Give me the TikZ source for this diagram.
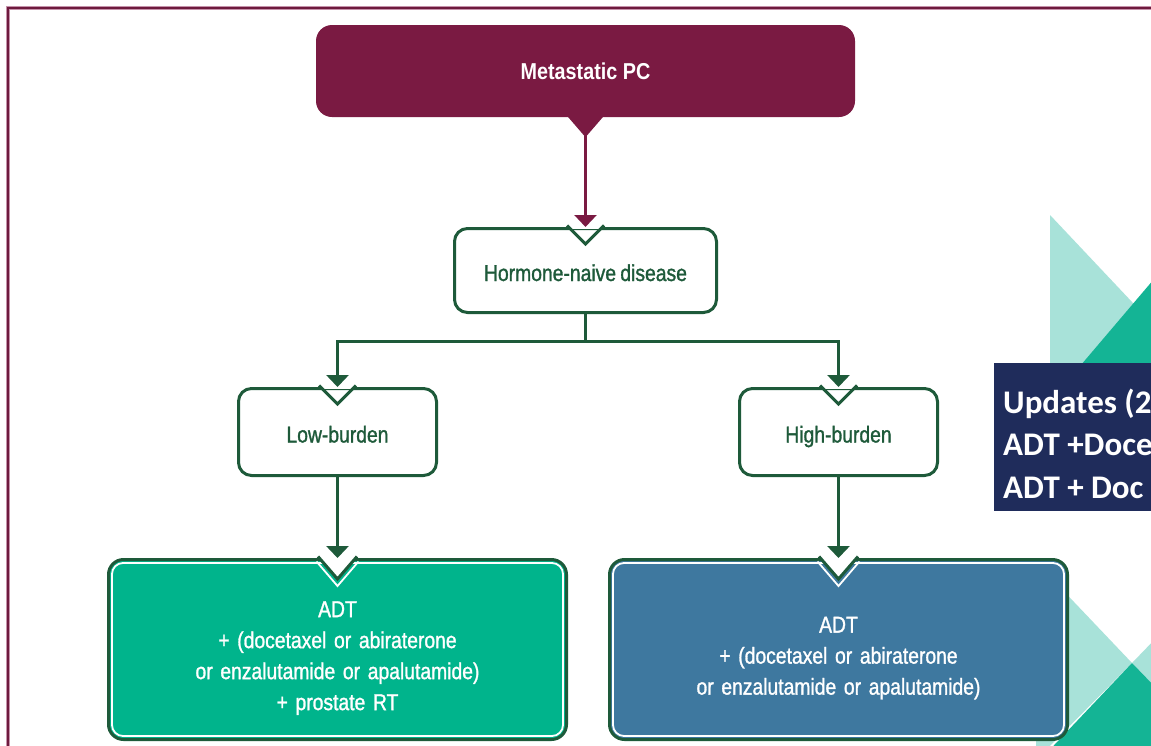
\documentclass[tikz,border=0pt]{standalone}
\usepackage{fontspec}
\setmainfont{Liberation Sans}[FakeStretch=0.86]
\newfontfamily\lblfont{Liberation Sans}[FakeStretch=0.84, FakeBold=1.2, WordSpace=0.8]
\newfontfamily\updfont{Carlito}
\usetikzlibrary{arrows.meta}
\definecolor{cMaroon}{HTML}{7A1A42}
\definecolor{cFrame}{HTML}{6E1A3E}
\definecolor{cFrameHalo}{HTML}{C592AA}
\definecolor{cGreen}{HTML}{1E5A3A}
\definecolor{cTeal}{HTML}{00B48C}
\definecolor{cBlue}{HTML}{3E789F}
\definecolor{cNavy}{HTML}{1F2C5B}
\definecolor{cLightTeal}{HTML}{A8E2D9}
\definecolor{cDarkTeal}{HTML}{14B495}
\tikzset{
  wbox/.style={draw=cGreen, line width=3pt, fill=white, rounded corners=13pt,
    text=cGreen, font=\lblfont\fontsize{23}{28}\selectfont, inner sep=0pt,
    text height=21pt, text depth=0pt},
  bigbox/.style={draw=cGreen, line width=3pt, rounded corners=15pt,
    text=white, align=center, text width=450pt,
    font=\lblfont\fontsize{23}{31}\selectfont, inner sep=0pt,
    minimum width=458pt, minimum height=180pt},
  metabox/.style={fill=cMaroon, rounded corners=16pt, text=white,
    font=\bfseries\fontsize{23}{28}\selectfont, minimum width=539pt,
    minimum height=92pt, inner sep=0pt},
  conn/.style={cGreen, line width=3pt, -{Triangle[width=22pt,length=12pt]}},
  connplain/.style={cGreen, line width=3pt},
  mconn/.style={cMaroon, line width=2.5pt, -{Triangle[width=22pt,length=12pt]}},
  notchline/.style={cGreen, line width=3pt, line join=miter},
  innerline/.style={white, line width=1.8pt},
}
\newcommand{\wnotch}[1]{%
  \fill[white] ([xshift=-17pt,yshift=-2pt]#1.north) rectangle ([xshift=17pt,yshift=2.5pt]#1.north);
  \draw[notchline] ([xshift=-18.5pt,yshift=1.5pt]#1.north) -- ([yshift=-17pt]#1.north) -- ([xshift=18.5pt,yshift=1.5pt]#1.north);
}
\newcommand{\bnotch}[1]{%
  \draw[innerline, rounded corners=11pt] ([xshift=5pt,yshift=-5pt]#1.north west) rectangle ([xshift=-5pt,yshift=5pt]#1.south east);
  \fill[white] ([xshift=-19pt,yshift=2.5pt]#1.north) -- ([xshift=-19pt,yshift=0pt]#1.north) -- ([yshift=-21pt]#1.north) -- ([xshift=19pt,yshift=0pt]#1.north) -- ([xshift=19pt,yshift=2.5pt]#1.north) -- cycle;
  \draw[notchline] ([xshift=-19.5pt,yshift=1.5pt]#1.north) -- ([yshift=-21pt]#1.north) -- ([xshift=19.5pt,yshift=1.5pt]#1.north);
  \draw[innerline] ([xshift=-21pt,yshift=-3.5pt]#1.north) -- ([yshift=-28pt]#1.north) -- ([xshift=21pt,yshift=-3.5pt]#1.north);
}
\begin{document}
\begin{tikzpicture}[x=1pt,y=-1pt]
\useasboundingbox (0,0) rectangle (1151,745);
\clip (0,0) rectangle (1151,745);
\fill[white] (0,0) rectangle (1151,745);
% decorative triangles
\fill[cLightTeal] (1050,215) -- (1050,372) -- (1198,372) -- cycle;
\fill[cDarkTeal] (1075,372) -- (1160,272) -- (1160,372) -- cycle;
\fill[cLightTeal] (1036,562) -- (1132,663) -- (1036,760) -- cycle;
\fill[cLightTeal] (1132,663) -- (1160,634) -- (1160,692) -- cycle;
\fill[cDarkTeal] (1132,663) -- (1160,692) -- (1160,760) -- (1040,760) -- cycle;
% frame
\draw[cFrameHalo, line width=4pt] (8,760) -- (8,8) -- (1160,8);
\draw[cFrame, line width=2pt] (8,760) -- (8,8) -- (1160,8);
% updates box
\node[fill=cNavy, anchor=north west, minimum height=148pt, text width=200pt,
  inner xsep=9pt, inner ysep=0pt, align=flush left, text=white,
  font=\updfont\bfseries\fontsize{33}{42.5}\selectfont] (upd) at (994,363)
  {\rule{0pt}{37pt}Updates (2\\ADT +Doce\\ADT + Doc};
% nodes
\node[metabox] (meta) at (585.5,71) {Metastatic PC};
\node[wbox, minimum width=262pt, minimum height=84pt] (horm) at (585.5,270.5) {Hormone-naive disease};
\node[wbox, minimum width=198pt, minimum height=87pt] (low) at (337.5,432) {Low-burden};
\node[wbox, minimum width=198pt, minimum height=87pt] (high) at (838.5,432) {High-burden};
\node[bigbox, fill=cTeal] (lowtx) at (337.5,649.5) {\rule{0pt}{33pt}ADT\\+ (docetaxel or abiraterone\\or enzalutamide or apalutamide)\\+ prostate RT};
\node[bigbox, fill=cBlue] (hightx) at (838.5,649.5) {\rule{0pt}{33pt}ADT\\+ (docetaxel or abiraterone\\or enzalutamide or apalutamide)};
% notches
\wnotch{horm}
\wnotch{low}
\wnotch{high}
\bnotch{lowtx}
\bnotch{hightx}
% meta pointer
\fill[cMaroon] ([xshift=-19pt,yshift=2pt]meta.south) -- ([xshift=19pt,yshift=2pt]meta.south) -- ([yshift=-20pt]meta.south) -- cycle;
% connectors
\coordinate (split) at (585.5,341);
\draw[mconn] ([yshift=-18pt]meta.south) -- (horm.north);
\draw[connplain] (horm.south) -- (split);
\draw[conn] ([xshift=1.5pt]split) -| (low.north);
\draw[conn] ([xshift=-1.5pt]split) -| (high.north);
\draw[conn] (low.south) -- (lowtx.north);
\draw[conn] (high.south) -- (hightx.north);
\end{tikzpicture}
\end{document}
